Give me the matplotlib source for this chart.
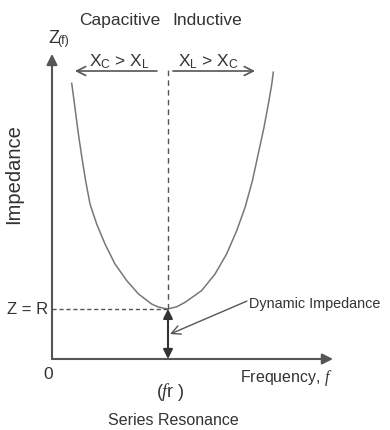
import matplotlib
matplotlib.use("Agg")
import matplotlib.pyplot as plt

# curve: frequency (arb. units) vs impedance
freq = [0.68, 0.79, 0.91, 1.03, 1.16, 1.31, 1.54, 1.83, 2.17, 2.58,
        2.98, 3.44, 3.65, 3.90, 4.00,
        4.30, 4.59, 5.16, 5.62, 6.02, 6.37, 6.66, 6.91, 7.11, 7.31,
        7.46, 7.58, 7.63]
imped = [9.19, 8.39, 7.50, 6.72, 5.94, 5.17, 4.50, 3.83, 3.17, 2.61,
         2.17, 1.83, 1.74, 1.68, 1.67,
         1.74, 1.89, 2.28, 2.83, 3.50, 4.28, 5.06, 5.94, 6.83, 7.72,
         8.50, 9.17, 9.56]
f_res = 4.0
z_min = 1.67
x_end = 9.69
y_end = 10.17
band_z = 9.6
band_left = [3.62, 0.79]
band_right = [4.17, 7.0]

plt.rcParams['font.family'] = ['Liberation Sans', 'DejaVu Sans']
plt.rcParams['mathtext.fontset'] = 'custom'
plt.rcParams['mathtext.rm'] = 'Liberation Sans'
plt.rcParams['mathtext.it'] = 'Liberation Serif:italic'

axc = '#555555'
txc = '#333333'

fig = plt.figure(figsize=(3.9, 4.31), dpi=100)
ax = fig.add_axes([0, 0, 1, 1])
ax.set_xlim(-52 / 29, 338 / 29)
ax.set_ylim(-71 / 30, 360 / 30)
ax.axis('off')

# axes with arrow heads
ax.annotate('', xy=(0, y_end), xytext=(0, 0),
            arrowprops=dict(arrowstyle='-|>', color=axc, lw=1.5, mutation_scale=16, shrinkA=0, shrinkB=0))
ax.annotate('', xy=(x_end, 0), xytext=(0, 0),
            arrowprops=dict(arrowstyle='-|>', color=axc, lw=1.5, mutation_scale=16, shrinkA=0, shrinkB=0))

# impedance curve
ax.plot(freq, imped, color='#777777', lw=1.1, solid_joinstyle='round')

# dashed guides
ax.plot([f_res, f_res], [z_min, 9.67], color=axc, lw=1.0, ls=(0, (4, 3)))
ax.plot([0, f_res], [z_min, z_min], color=axc, lw=1.0, ls=(0, (3, 2)))

# double arrow at resonance
ax.annotate('', xy=(f_res, z_min), xytext=(f_res, 0),
            arrowprops=dict(arrowstyle='<|-|>', color='#333333', lw=1.5, mutation_scale=14, shrinkA=0, shrinkB=0))

# capacitive / inductive arrows
ax.annotate('', xy=(band_left[1], band_z), xytext=(band_left[0], band_z),
            arrowprops=dict(arrowstyle='->', color=axc, lw=1.2, mutation_scale=16, shrinkA=0, shrinkB=0))
ax.annotate('', xy=(band_right[1], band_z), xytext=(band_right[0], band_z),
            arrowprops=dict(arrowstyle='->', color=axc, lw=1.2, mutation_scale=16, shrinkA=0, shrinkB=0))

# dynamic impedance pointer
ax.annotate('', xy=(4.07, 0.83), xytext=(6.72, 1.93),
            arrowprops=dict(arrowstyle='->', color=axc, lw=1.0, mutation_scale=16, shrinkA=0, shrinkB=0))
ax.text(6.8, 1.85, 'Dynamic Impedance', fontsize=10.4, color=txc, ha='left', va='center')

ax.text(2.34, 11.33, 'Capacitive', fontsize=12.5, color=txc, ha='center', va='center')
ax.text(5.35, 11.33, 'Inductive', fontsize=12.5, color=txc, ha='center', va='center')
ax.text(2.34, 9.95, r'X$_\mathregular{C}$ > X$_\mathregular{L}$', fontsize=12.5, color=txc, ha='center', va='center')
ax.text(5.38, 9.95, r'X$_\mathregular{L}$ > X$_\mathregular{C}$', fontsize=12.5, color=txc, ha='center', va='center')

ax.text(0.05, 10.72, 'Z', fontsize=13, color=txc, ha='center', va='center')
ax.text(0.4, 10.62, '(f)', fontsize=9, color=txc, ha='center', va='center')
ax.text(-1.31, 6.2, 'Impedance', fontsize=14.5, color=txc, ha='center', va='center', rotation=90)
ax.text(-0.14, z_min, 'Z = R', fontsize=12, color=txc, ha='right', va='center')
ax.text(-0.14, -0.5, '0', fontsize=12.5, color=txc, ha='center', va='center')
ax.text(f_res + 0.1, -1.07, r'($\mathit{f}$r )', fontsize=13, color=txc, ha='center', va='center')
ax.text(f_res + 0.19, -2.03, 'Series Resonance', fontsize=11.5, color=txc, ha='center', va='center')
ax.text(6.48, -0.6, r'Frequency, $\mathit{f}$', fontsize=11.5, color=txc, ha='left', va='center')

fig.savefig('out.png', dpi=100, facecolor='white')
